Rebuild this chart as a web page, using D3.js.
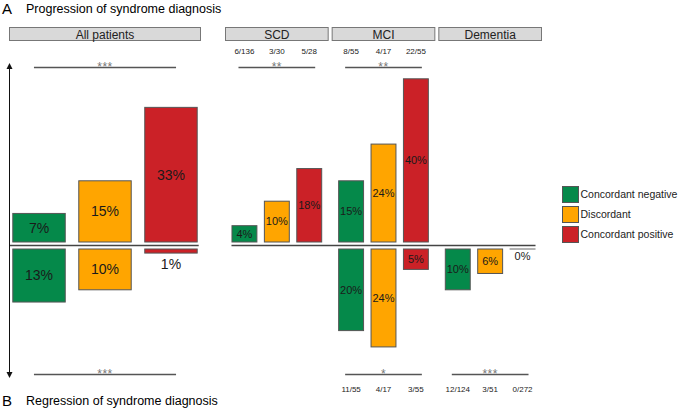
<!DOCTYPE html>
<html><head><meta charset="utf-8">
<script src="https://cdn.jsdelivr.net/npm/d3@7/dist/d3.min.js"></script>
<style>body{margin:0;background:#fff}svg{display:block;font-family:"Liberation Sans",Arial,sans-serif}</style>
</head><body><svg id="c" width="685" height="409"></svg>
<script>
const groups = ["All patients", "SCD", "MCI", "Dementia"];
const categories = ["Concordant negative", "Discordant", "Concordant positive"];
const colors = ["#05894A", "#FFA500", "#CB2127"];
// progression (%), upward bars
const progAll = [7, 15, 33];
const progSCD = [4, 10, 18];
const progMCI = [15, 24, 40];
const progDementia = [];
// regression (%), downward bars
const regAll = [13, 10, 1];
const regSCD = [];
const regMCI = [20, 24, 5];
const regDementia = [10, 6, 0];
// fractions
const progFracSCD = ["6/136", "3/30", "5/28"];
const progFracMCI = ["8/55", "4/17", "22/55"];
const regFracMCI = ["11/55", "4/17", "3/55"];
const regFracDementia = ["12/124", "3/51", "0/272"];
// significance
const progSig = ["***", "**", "**", ""];
const regSig = ["***", "", "*", "***"];

const prog = [progAll, progSCD, progMCI, progDementia];
const reg = [regAll, regSCD, regMCI, regDementia];
const progFrac = [[], progFracSCD, progFracMCI, []];
const regFrac = [[], [], regFracMCI, regFracDementia];

const svg = d3.select("#c");
const stroke = "#555";

// panel scales
const leftPanel = d3.scaleBand().domain([groups[0]]).range([9, 201]);
const rightPanel = d3.scaleBand().domain(groups.slice(1)).range([225, 542]).paddingInner(0.028);
function panelX(g){ return g === groups[0] ? leftPanel(g) : rightPanel(g); }
function panelW(g){ return g === groups[0] ? leftPanel.bandwidth() : rightPanel.bandwidth(); }
function innerScale(g){
  const x0 = panelX(g), w = panelW(g);
  return g === groups[0]
    ? d3.scaleBand().domain(categories).range([x0, x0 + w]).paddingInner(0.19).paddingOuter(0.05)
    : d3.scaleBand().domain(categories).range([x0, x0 + w]).paddingInner(0.2).paddingOuter(0.2);
}

const baseY = 245.5;
const yUp = d3.scaleLinear().domain([0, 40]).range([242, 242 - 40 * 4.08]);
const yDown = d3.scaleLinear().domain([0, 40]).range([249, 249 + 40 * 4.08]);

// titles
svg.append("text").attr("x", 2).attr("y", 14).attr("font-size", 15).text("A");
svg.append("text").attr("x", 26).attr("y", 13).attr("font-size", 12.5).text("Progression of syndrome diagnosis");
svg.append("text").attr("x", 2).attr("y", 406).attr("font-size", 15).text("B");
svg.append("text").attr("x", 26).attr("y", 405).attr("font-size", 12.5).text("Regression of syndrome diagnosis");

// strips
groups.forEach(g => {
  const x0 = panelX(g), w = panelW(g);
  svg.append("rect").attr("x", x0 + 0.5).attr("y", 27.5).attr("width", w - 1).attr("height", 13)
    .attr("fill", "#D9D9D9").attr("stroke", "#777").attr("stroke-width", 1);
  svg.append("text").attr("x", x0 + w / 2).attr("y", 38.5).attr("text-anchor", "middle")
    .attr("font-size", 12).attr("fill", "#222").text(g);
});

// arrow
const defs = svg.append("defs");
defs.append("marker").attr("id", "ah").attr("viewBox", "0 0 10 10").attr("refX", 5).attr("refY", 5)
  .attr("markerWidth", 6).attr("markerHeight", 7).attr("orient", "auto-start-reverse")
  .append("path").attr("d", "M0,0 L10,5 L0,10 Z").attr("fill", "#111");
svg.append("line").attr("x1", 9.5).attr("x2", 9.5).attr("y1", 66).attr("y2", 375)
  .attr("stroke", "#111").attr("stroke-width", 1)
  .attr("marker-start", "url(#ah)").attr("marker-end", "url(#ah)");

// baselines
const sAll = innerScale(groups[0]);
svg.append("line").attr("x1", 10).attr("x2", sAll(categories[2]) + sAll.bandwidth() + 1)
  .attr("y1", baseY).attr("y2", baseY).attr("stroke", "#444").attr("stroke-width", 1.3);
const sSCD = innerScale("SCD"), sDem = innerScale("Dementia");
svg.append("line").attr("x1", sSCD(categories[0])).attr("x2", sDem(categories[2]) + sDem.bandwidth())
  .attr("y1", baseY).attr("y2", baseY).attr("stroke", "#444").attr("stroke-width", 1.3);

groups.forEach((g, gi) => {
  const xs = innerScale(g);
  const big = gi === 0;
  const fs = big ? 14 : 11;
  const bw = xs.bandwidth();
  // progression bars
  prog[gi].forEach((v, i) => {
    const x = xs(categories[i]);
    svg.append("rect").attr("x", x + 0.5).attr("y", yUp(v)).attr("width", bw - 1).attr("height", yUp(0) - yUp(v))
      .attr("fill", colors[i]).attr("stroke", stroke).attr("stroke-width", 1);
    const inside = v >= 3;
    svg.append("text").attr("x", x + bw / 2)
      .attr("y", inside ? (yUp(v) + yUp(0)) / 2 : yUp(v) - 4)
      .attr("dy", "0.35em").attr("text-anchor", "middle").attr("font-size", fs).attr("fill", "#1a1a1a")
      .text(v + "%");
  });
  // regression bars
  reg[gi].forEach((v, i) => {
    const x = xs(categories[i]);
    if (v > 0) {
      svg.append("rect").attr("x", x + 0.5).attr("y", yDown(0)).attr("width", bw - 1).attr("height", yDown(v) - yDown(0))
        .attr("fill", colors[i]).attr("stroke", stroke).attr("stroke-width", 1);
    } else {
      svg.append("line").attr("x1", x).attr("x2", x + bw).attr("y1", yDown(0)).attr("y2", yDown(0))
        .attr("stroke", "#666").attr("stroke-width", 1);
    }
    const inside = v >= 3;
    svg.append("text").attr("x", x + bw / 2)
      .attr("y", inside ? (yDown(v) + yDown(0)) / 2 : yDown(v) + (big ? 11 : 7))
      .attr("dy", "0.35em").attr("text-anchor", "middle").attr("font-size", fs).attr("fill", "#1a1a1a")
      .text(v + "%");
  });
  // fractions
  progFrac[gi].forEach((f, i) => {
    svg.append("text").attr("x", xs(categories[i]) + bw / 2).attr("y", 54).attr("text-anchor", "middle")
      .attr("font-size", 8).attr("fill", "#222").text(f);
  });
  regFrac[gi].forEach((f, i) => {
    svg.append("text").attr("x", xs(categories[i]) + bw / 2).attr("y", 392).attr("text-anchor", "middle")
      .attr("font-size", 8).attr("fill", "#222").text(f);
  });
  // significance
  const mid = panelX(g) + panelW(g) / 2, half = panelW(g) * 0.37;
  [[progSig[gi], 67.5], [regSig[gi], 374.5]].forEach(([s, y]) => {
    if (!s) return;
    svg.append("line").attr("x1", mid - half).attr("x2", mid + half).attr("y1", y).attr("y2", y)
      .attr("stroke", "#555").attr("stroke-width", 1.5);
    svg.append("text").attr("x", mid).attr("y", y + 3).attr("text-anchor", "middle")
      .attr("font-size", 12).attr("letter-spacing", "0.5px").attr("fill", "#777").text(s);
  });
});

// legend
const lg = svg.append("g").attr("transform", "translate(562,186)");
categories.forEach((c, i) => {
  lg.append("rect").attr("x", 0.5).attr("y", i * 20 + 0.5).attr("width", 16).attr("height", 16)
    .attr("fill", colors[i]).attr("stroke", stroke).attr("stroke-width", 1);
  lg.append("text").attr("x", 18.5).attr("y", i * 20 + 8.5).attr("dy", "0.35em")
    .attr("font-size", 10.5).attr("fill", "#222").text(c);
});
</script></body></html>
